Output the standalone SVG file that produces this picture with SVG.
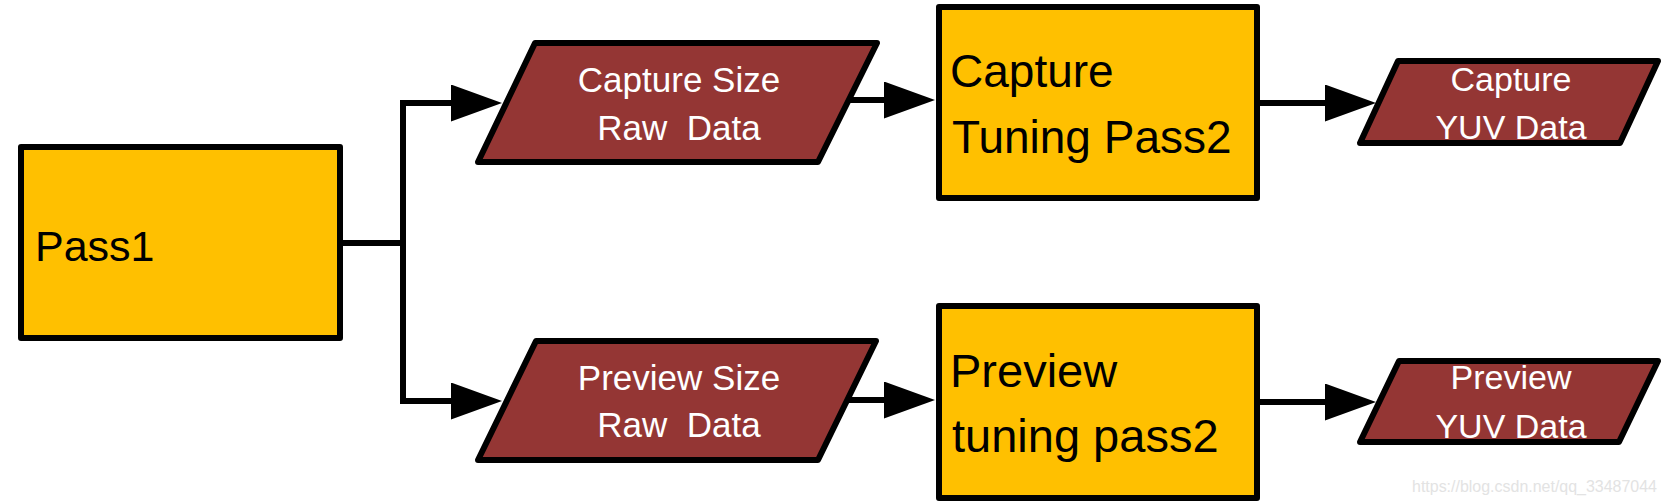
<svg xmlns="http://www.w3.org/2000/svg" width="1665" height="504" viewBox="0 0 1665 504">
<style>
.proc{fill:#FFC000;stroke:#000;stroke-width:6;stroke-linejoin:round}
.data{fill:#943634;stroke:none}
.dataline{fill:none;stroke:#000;stroke-width:6;stroke-linejoin:round}
.conn{fill:none;stroke:#000;stroke-width:6;stroke-linejoin:miter}
.tb{font-family:"Liberation Sans",Arial,sans-serif;fill:#000}
.tw{font-family:"Liberation Sans",Arial,sans-serif;fill:#fff;text-anchor:middle;white-space:pre}
.wm{font-family:"Liberation Sans",Arial,sans-serif;fill:#E3E3E3;font-size:17px}
</style>
<defs>
<marker id="arr" markerUnits="userSpaceOnUse" markerWidth="52" markerHeight="38" refX="0" refY="18.5" orient="auto">
<path d="M0,0 L51,18.5 L0,37 z" fill="#000"/>
</marker>
</defs>
<g id="connectors">
<path class="conn" d="M340,243 H403"/>
<path class="conn" d="M451,103 H403 V401 H451" marker-end="url(#arr)"/>
<path class="conn" d="M403,103 H451" marker-end="url(#arr)"/>
<path class="conn" d="M818,100 H884" marker-end="url(#arr)"/>
<path class="conn" d="M818,400 H884" marker-end="url(#arr)"/>
<path class="conn" d="M1257,103 H1325" marker-end="url(#arr)"/>
<path class="conn" d="M1257,402 H1325" marker-end="url(#arr)"/>
</g>
<g id="pass1">
<rect class="proc" x="21" y="147" width="319" height="191"/>
<text class="tb" x="35" y="261" font-size="43">Pass1</text>
</g>
<g id="capture-size-raw">
<polygon class="data" points="535,43 877,43 818,162 478,162"/>
<text class="tw" x="679" y="92" font-size="35">Capture Size</text>
<text class="tw" x="679" y="140" font-size="35">Raw  Data</text>
<polygon class="dataline" points="535,43 877,43 818,162 478,162"/>
</g>
<g id="preview-size-raw">
<polygon class="data" points="536,341 876,341 818,460 478,460"/>
<text class="tw" x="679" y="390" font-size="35">Preview Size</text>
<text class="tw" x="679" y="437" font-size="35">Raw  Data</text>
<polygon class="dataline" points="536,341 876,341 818,460 478,460"/>
</g>
<g id="capture-tuning">
<rect class="proc" x="939" y="7" width="318" height="191"/>
<text class="tb" x="950" y="87" font-size="46">Capture</text>
<text class="tb" x="952" y="153" font-size="46">Tuning Pass2</text>
</g>
<g id="preview-tuning">
<rect class="proc" x="939" y="306" width="318" height="192"/>
<text class="tb" x="950" y="387" font-size="47">Preview</text>
<text class="tb" x="952" y="452" font-size="47">tuning pass2</text>
</g>
<g id="capture-yuv">
<polygon class="data" points="1398,61 1658,61 1620,143 1360,143"/>
<text class="tw" x="1511" y="91" font-size="34">Capture</text>
<text class="tw" x="1511" y="139" font-size="34">YUV Data</text>
<polygon class="dataline" points="1398,61 1658,61 1620,143 1360,143"/>
</g>
<g id="preview-yuv">
<polygon class="data" points="1399,361 1658,361 1619,442 1360,442"/>
<text class="tw" x="1511" y="389" font-size="34">Preview</text>
<text class="tw" x="1511" y="438" font-size="34">YUV Data</text>
<polygon class="dataline" points="1399,361 1658,361 1619,442 1360,442"/>
</g>
<text class="wm" x="1412" y="492" textLength="245" lengthAdjust="spacingAndGlyphs">https://blog.csdn.net/qq_33487044</text>
</svg>
